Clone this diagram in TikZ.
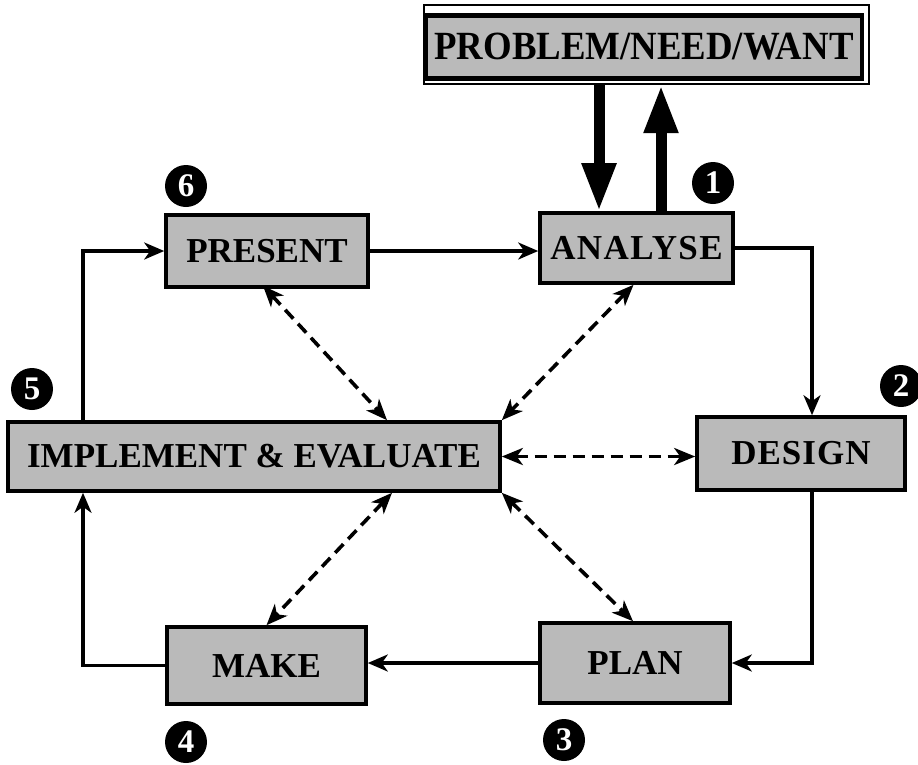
\documentclass[tikz,border=0pt]{standalone}
\usepackage{fontspec}
\setmainfont{Liberation Serif}
\usetikzlibrary{arrows.meta,calc}
\begin{document}
\begin{tikzpicture}[x=1pt,y=-1pt,
  stagebox/.style={draw=black,line width=3.6pt,fill=black!27,inner sep=0pt,
    font=\bfseries\fontsize{35}{40}\selectfont},
  numdot/.style={circle,fill=black,text=white,minimum size=42pt,inner sep=0pt,
    font=\bfseries\fontsize{33}{34}\selectfont},
  flow/.style={line width=3.2pt,-{Stealth[length=20pt,width=17pt,inset=6pt]}},
  link/.style={line width=3.6pt,dash pattern=on 12pt off 7pt,
    {Stealth[length=21pt,width=17pt,inset=6pt]}-{Stealth[length=21pt,width=17pt,inset=6pt]}},
  bigarrow/.style={line width=11pt,-{Triangle[length=48pt,width=32pt]}}]
\useasboundingbox (0,0) rectangle (918,764);

% problem box with frame
\node (pframe) [draw=black,line width=2.4pt,minimum width=445pt,minimum height=79pt,inner sep=0pt] at (646.5,44.5) {};
\node (problem) [stagebox,line width=4.5pt,minimum width=436pt,minimum height=63pt] at (644,47)
  {\fontsize{40}{44}\selectfont\scalebox{0.92}[1]{PROBLEM/NEED/WANT}};

% stage boxes
\node (analyse) [stagebox,minimum width=193pt,minimum height=70pt] at (636.5,248) {\addfontfeatures{LetterSpace=4}ANALYSE};
\node (present) [stagebox,minimum width=202pt,minimum height=72pt] at (267,251) {PRESENT};
\node (implement) [stagebox,minimum width=492pt,minimum height=69pt] at (254,456.5) {IMPLEMENT \& EVALUATE};
\node (design) [stagebox,minimum width=208pt,minimum height=73pt] at (801,453.5) {\addfontfeatures{LetterSpace=3}DESIGN};
\node (plan) [stagebox,minimum width=190pt,minimum height=80pt] at (635,663) {PLAN};
\node (make) [stagebox,minimum width=199pt,minimum height=77pt] at (266.5,665.5) {MAKE};

% numbers
\node (n1) [numdot] at (713,183) {1};
\node (n2) [numdot] at (901,386) {2};
\node (n3) [numdot] at (564,740) {3};
\node (n4) [numdot] at (186,742) {4};
\node (n5) [numdot] at (32,389) {5};
\node (n6) [numdot] at (186,186) {6};

% routing coordinates
\coordinate (rx) at (812,0);
\coordinate (lx) at (83,0);

% thick arrows
\draw[bigarrow] ([xshift=-47.5pt]pframe.south) -- ([xshift=-47.5pt]pframe.south |- analyse.north);
\draw[bigarrow] ([xshift=24.5pt]analyse.north) -- ([xshift=24.5pt]analyse.north |- pframe.south);

% cycle
\draw[flow] (present.east) -- (present.east -| analyse.west);
\draw[flow] (analyse.east) -| (rx |- design.north);
\draw[flow] (rx |- design.south) |- (plan.east);
\draw[flow] (plan.west) -- (plan.west -| make.east);
\draw[flow] (make.west) -| (lx |- implement.south);
\draw[flow] (lx |- implement.north) |- (present.west);

% dashed links
\draw[link] ([xshift=-4pt,yshift=3pt]present.south) -- ([xshift=133pt]implement.north);
\draw[link] ([xshift=-3pt]analyse.south) -- (implement.north east);
\draw[link] (implement.east) -- (implement.east -| design.west);
\draw[link] (implement.south east) -- ([xshift=-2pt]plan.north);
\draw[link] ([xshift=138pt]implement.south) -- (make.north);
\end{tikzpicture}
\end{document}
